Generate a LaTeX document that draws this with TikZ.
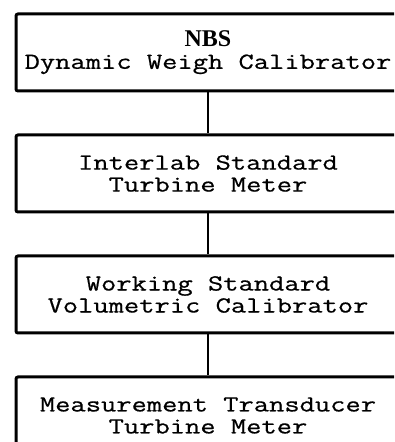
\documentclass[tikz,border=0pt]{standalone}
\usepackage{fontspec}
\setmainfont{Liberation Serif}
\newfontfamily\typer[FakeStretch=1.29, FakeBold=0.6]{Latin Modern Mono}
\usetikzlibrary{positioning}

\begin{document}
\begin{tikzpicture}[
    x=1pt, y=1pt,
    node distance=41pt,
    stage/.style={
        draw, line width=3pt, rounded corners=2pt,
        minimum width=384pt, minimum height=77pt,
        align=center, inner sep=0pt,
        font=\typer\fontsize{23}{22}\selectfont,
    },
    link/.style={draw, line width=1.6pt},
]
\useasboundingbox (0,0) rectangle (394,442);
\clip (0,0) rectangle (394,442);

% calibration chain, top to bottom
\node[stage] (nbs) at (208,389.5) {{\rmfamily\bfseries\fontsize{24}{22}\selectfont NBS} \\ Dynamic Weigh Calibrator};
\node[stage, below=of nbs]      (interlab)  {Interlab Standard \\ Turbine Meter};
\node[stage, below=of interlab] (working)   {Working Standard \\ Volumetric Calibrator};
\node[stage, below=of working]  (transducer) {Measurement Transducer \\ Turbine Meter};

% links
\draw[link] (nbs) -- (interlab);
\draw[link] (interlab) -- (working);
\draw[link] (working) -- (transducer);

\end{tikzpicture}
\end{document}
